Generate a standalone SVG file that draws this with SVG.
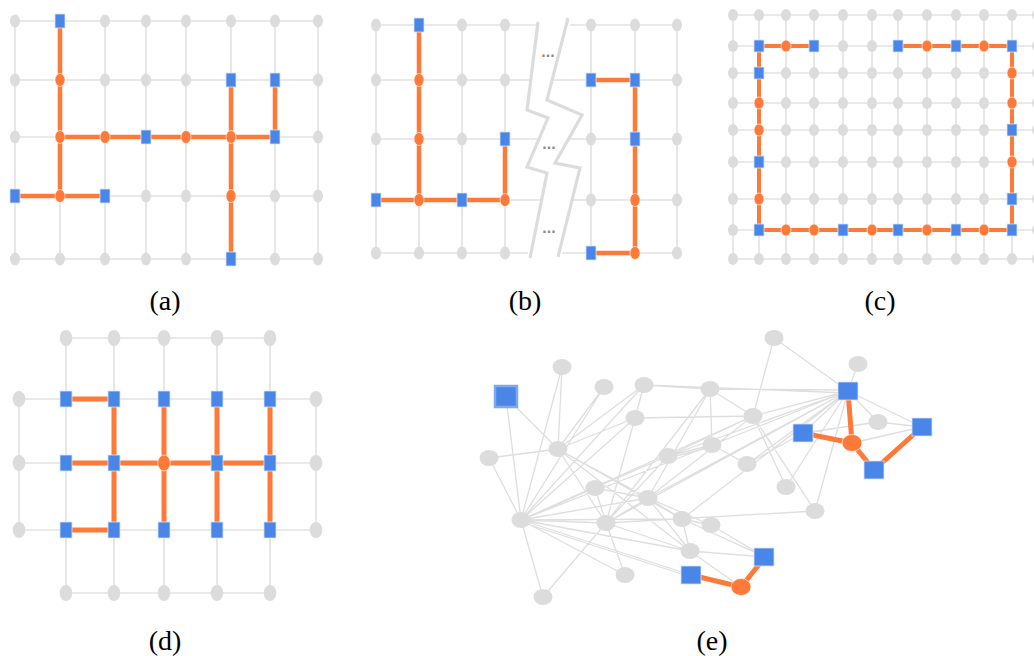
<svg xmlns="http://www.w3.org/2000/svg" width="1034" height="656" viewBox="0 0 1034 656">
<style>
.grid{fill:none;stroke:#e2e2e2;stroke-width:1.6}
.og{fill:none;stroke:#ff7a38;stroke-width:4.5;stroke-linecap:butt}
.gn{fill:#dcdcdc}
.on{fill:#ff7a38;stroke:#fff;stroke-width:0.6}
.bn{fill:#4a86e8;stroke:#d6e4fa;stroke-width:0.8}
.lbl{font-family:"Liberation Serif","Times New Roman",serif;font-size:28px;fill:#000;text-anchor:middle}
.dots{font-family:"Liberation Sans",Arial,sans-serif;font-size:16px;font-weight:bold;fill:#8c8c8c;text-anchor:middle}
.eg{fill:none;stroke:#dedede;stroke-width:1.3}
.zig{fill:none;stroke:#dcdcdc;stroke-width:3.2;stroke-linejoin:miter}
</style>
<defs>
<ellipse id="ga" class="gn" rx="5" ry="6.5"/>
<ellipse id="oa" class="on" rx="5" ry="6.5"/>
<rect id="ba" class="bn" x="-5" y="-7" width="10" height="14"/>
<ellipse id="gc" class="gn" rx="5" ry="6"/>
<ellipse id="oc" class="on" rx="5" ry="6"/>
<rect id="bc" class="bn" x="-5" y="-6" width="10" height="12"/>
<ellipse id="gd" class="gn" rx="6.3" ry="8"/>
<ellipse id="od" class="on" rx="6.3" ry="8"/>
<rect id="bd" class="bn" x="-6" y="-8" width="12" height="16"/>
<ellipse id="ge" class="gn" rx="9.5" ry="8"/>
<ellipse id="oe" class="on" rx="10" ry="8.5"/>
<rect id="be" class="bn" x="-10" y="-9" width="20" height="18"/>
</defs>

<g id="connectors">
<!-- panel a -->
<path class="grid" d="M15 21H318M15 80H318M15 137H318M15 196H318M15 259H318M15 21V259M60 21V259M105 21V259M146 21V259M186 21V259M231 21V259M275 21V259M318 21V259"/>
<path class="og" d="M60 21V196M15 196H105M60 137H275M231 80V259M275 80V137"/>
<!-- panel b -->
<path class="grid" d="M376 25H538M376 80H530M376 139H537M376 200H541M376 253H528M376 25V253M419 25V253M462 25V253M505 25V253M570 25H677M553 80H677M569 139H677M573 200H677M562 253H677M591 25V253M635 25V253M677 25V253"/>
<path class="zig" d="M538 22L527 110L548 118L527 167L547 173L530 258"/>
<path class="zig" d="M568 18L547 100L582 115L555 163L580 168L558 257"/>
<path class="og" d="M419 25V200M376 200H505M505 139V200M591 80H635M635 80V253M591 253H635"/>
<!-- panel c -->
<path class="grid" d="M733 15H1034M733 46H1034M733 73H1034M733 103H1034M733 130H1034M733 162H1034M733 199H1034M733 230H1034M733 259H1034M733 15V259M759 15V259M786 15V259M814 15V259M843 15V259M872 15V259M898 15V259M927 15V259M956 15V259M984 15V259M1012 15V259"/>
<path class="og" style="stroke-width:4" d="M759 46H814M898 46H1012M759 46V230M1012 46V230M759 230H1012"/>
<!-- panel d -->
<path class="grid" d="M66 338H270M66 593H270M19 399H316M19 463H316M19 530H316M19 399V530M316 399V530M66 338V593M114 338V593M164 338V593M217 338V593M270 338V593"/>
<path class="og" style="stroke-width:5" d="M66 399H114M66 463H270M66 530H114M114 399V530M164 399V530M217 399V530M270 399V530"/>
<!-- panel e -->
<path class="eg" d="M506 397L558 449M506 397L521 520M562 367L558 449M562 367L521 520M604 387L558 449M604 387L521 520M644 385L558 449M644 385L521 520M644 385L635 418M644 385L710 389M644 385L848 393M710 389L848 390M710 389L712 445M710 389L753 416M710 389L648 498M710 389L606 523M774 338L753 416M774 338L848 391M858 364L848 391M635 418L558 449M635 418L753 416M635 418L606 523M489 458L558 449M489 458L521 520M558 449L648 498M558 449L606 523M558 449L690 551M558 449L682 519M521 520L606 523M521 520L648 498M521 520L682 519M521 520L690 551M521 520L691 575M521 522L691 577M521 520L625 575M521 520L543 597M521 520L668 456M521 520L635 418M521 520L712 445M521 520L753 416M521 520L595 488M606 523L543 597M606 523L625 575M606 523L690 551M606 523L815 511M606 523L648 498M668 456L606 523M668 456L712 445M668 458L712 447M668 456L848 391M668 456L753 416M712 445L848 391M712 445L747 464M753 416L848 391M753 416L648 498M753 416L786 487M753 416L815 511M848 391L648 498M848 391L606 523M848 391L747 464M848 391L786 487M848 391L815 511M848 391L803 433M848 391L878 422M848 391L922 427M848 391L682 519M803 433L747 464M803 433L878 422M878 422L922 427M852 443L922 427M595 488L606 523M595 488L648 498M648 498L682 519M648 498L711 525M648 498L690 551M682 519L690 551M682 519L711 525M682 519L765 557M711 525L765 557M690 551L765 557M690 551L741 587"/>
<path class="og" style="stroke-width:5" d="M848 391L852 443M803 433L852 443M852 443L874 470L922 427M691 575L741 587L765 557"/>
</g>

<g id="nodes-a">
<use id="a11" href="#ga" x="15" y="21"/><use id="a12" href="#ba" x="60" y="21"/><use id="a13" href="#ga" x="105" y="21"/><use id="a14" href="#ga" x="146" y="21"/><use id="a15" href="#ga" x="186" y="21"/><use id="a16" href="#ga" x="231" y="21"/><use id="a17" href="#ga" x="275" y="21"/><use id="a18" href="#ga" x="318" y="21"/>
<use id="a21" href="#ga" x="15" y="80"/><use id="a22" href="#oa" x="60" y="80"/><use id="a23" href="#ga" x="105" y="80"/><use id="a24" href="#ga" x="146" y="80"/><use id="a25" href="#ga" x="186" y="80"/><use id="a26" href="#ba" x="231" y="80"/><use id="a27" href="#ba" x="275" y="80"/><use id="a28" href="#ga" x="318" y="80"/>
<use id="a31" href="#ga" x="15" y="137"/><use id="a32" href="#oa" x="60" y="137"/><use id="a33" href="#oa" x="105" y="137"/><use id="a34" href="#ba" x="146" y="137"/><use id="a35" href="#oa" x="186" y="137"/><use id="a36" href="#oa" x="231" y="137"/><use id="a37" href="#ba" x="275" y="137"/><use id="a38" href="#ga" x="318" y="137"/>
<use id="a41" href="#ba" x="15" y="196"/><use id="a42" href="#oa" x="60" y="196"/><use id="a43" href="#ba" x="105" y="196"/><use id="a44" href="#ga" x="146" y="196"/><use id="a45" href="#ga" x="186" y="196"/><use id="a46" href="#oa" x="231" y="196"/><use id="a47" href="#ga" x="275" y="196"/><use id="a48" href="#ga" x="318" y="196"/>
<use id="a51" href="#ga" x="15" y="259"/><use id="a52" href="#ga" x="60" y="259"/><use id="a53" href="#ga" x="105" y="259"/><use id="a54" href="#ga" x="146" y="259"/><use id="a55" href="#ga" x="186" y="259"/><use id="a56" href="#ba" x="231" y="259"/><use id="a57" href="#ga" x="275" y="259"/><use id="a58" href="#ga" x="318" y="259"/>
</g>

<g id="nodes-b">
<use id="b11" href="#ga" x="376" y="25"/><use id="b12" href="#ba" x="419" y="25"/><use id="b13" href="#ga" x="462" y="25"/><use id="b14" href="#ga" x="505" y="25"/>
<use id="b21" href="#ga" x="376" y="80"/><use id="b22" href="#oa" x="419" y="80"/><use id="b23" href="#ga" x="462" y="80"/><use id="b24" href="#ga" x="505" y="80"/>
<use id="b31" href="#ga" x="376" y="139"/><use id="b32" href="#oa" x="419" y="139"/><use id="b33" href="#ga" x="462" y="139"/><use id="b34" href="#ba" x="505" y="139"/>
<use id="b41" href="#ba" x="376" y="200"/><use id="b42" href="#oa" x="419" y="200"/><use id="b43" href="#ba" x="462" y="200"/><use id="b44" href="#oa" x="505" y="200"/>
<use id="b51" href="#ga" x="376" y="253"/><use id="b52" href="#ga" x="419" y="253"/><use id="b53" href="#ga" x="462" y="253"/><use id="b54" href="#ga" x="505" y="253"/>
<use id="b15" href="#ga" x="591" y="25"/><use id="b16" href="#ga" x="635" y="25"/><use id="b17" href="#ga" x="677" y="25"/>
<use id="b25" href="#ba" x="591" y="80"/><use id="b26" href="#ba" x="635" y="80"/><use id="b27" href="#ga" x="677" y="80"/>
<use id="b35" href="#ga" x="591" y="139"/><use id="b36" href="#ba" x="635" y="139"/><use id="b37" href="#ga" x="677" y="139"/>
<use id="b45" href="#ga" x="591" y="200"/><use id="b46" href="#oa" x="635" y="200"/><use id="b47" href="#ga" x="677" y="200"/>
<use id="b55" href="#ba" x="591" y="253"/><use id="b56" href="#oa" x="635" y="253"/><use id="b57" href="#ga" x="677" y="253"/>
<text class="dots" x="548" y="57">...</text>
<text class="dots" x="549" y="149">...</text>
<text class="dots" x="549" y="233">...</text>
</g>

<g id="nodes-c">
<use id="c11" href="#gc" x="733" y="15"/><use id="c12" href="#gc" x="759" y="15"/><use id="c13" href="#gc" x="786" y="15"/><use id="c14" href="#gc" x="814" y="15"/><use id="c15" href="#gc" x="843" y="15"/><use id="c16" href="#gc" x="872" y="15"/><use id="c17" href="#gc" x="898" y="15"/><use id="c18" href="#gc" x="927" y="15"/><use id="c19" href="#gc" x="956" y="15"/><use id="c1a" href="#gc" x="984" y="15"/><use id="c1b" href="#gc" x="1012" y="15"/><use id="c1c" href="#gc" x="1037" y="15"/>
<use id="c21" href="#gc" x="733" y="46"/><use id="c22" href="#bc" x="759" y="46"/><use id="c23" href="#oc" x="786" y="46"/><use id="c24" href="#bc" x="814" y="46"/><use id="c25" href="#gc" x="843" y="46"/><use id="c26" href="#gc" x="872" y="46"/><use id="c27" href="#bc" x="898" y="46"/><use id="c28" href="#oc" x="927" y="46"/><use id="c29" href="#bc" x="956" y="46"/><use id="c2a" href="#oc" x="984" y="46"/><use id="c2b" href="#bc" x="1012" y="46"/><use id="c2c" href="#gc" x="1037" y="46"/>
<use id="c31" href="#gc" x="733" y="73"/><use id="c32" href="#bc" x="759" y="73"/><use id="c33" href="#gc" x="786" y="73"/><use id="c34" href="#gc" x="814" y="73"/><use id="c35" href="#gc" x="843" y="73"/><use id="c36" href="#gc" x="872" y="73"/><use id="c37" href="#gc" x="898" y="73"/><use id="c38" href="#gc" x="927" y="73"/><use id="c39" href="#gc" x="956" y="73"/><use id="c3a" href="#gc" x="984" y="73"/><use id="c3b" href="#oc" x="1012" y="73"/><use id="c3c" href="#gc" x="1037" y="73"/>
<use id="c41" href="#gc" x="733" y="103"/><use id="c42" href="#oc" x="759" y="103"/><use id="c43" href="#gc" x="786" y="103"/><use id="c44" href="#gc" x="814" y="103"/><use id="c45" href="#gc" x="843" y="103"/><use id="c46" href="#gc" x="872" y="103"/><use id="c47" href="#gc" x="898" y="103"/><use id="c48" href="#gc" x="927" y="103"/><use id="c49" href="#gc" x="956" y="103"/><use id="c4a" href="#gc" x="984" y="103"/><use id="c4b" href="#oc" x="1012" y="103"/><use id="c4c" href="#gc" x="1037" y="103"/>
<use id="c51" href="#gc" x="733" y="130"/><use id="c52" href="#oc" x="759" y="130"/><use id="c53" href="#gc" x="786" y="130"/><use id="c54" href="#gc" x="814" y="130"/><use id="c55" href="#gc" x="843" y="130"/><use id="c56" href="#gc" x="872" y="130"/><use id="c57" href="#gc" x="898" y="130"/><use id="c58" href="#gc" x="927" y="130"/><use id="c59" href="#gc" x="956" y="130"/><use id="c5a" href="#gc" x="984" y="130"/><use id="c5b" href="#bc" x="1012" y="130"/><use id="c5c" href="#gc" x="1037" y="130"/>
<use id="c61" href="#gc" x="733" y="162"/><use id="c62" href="#bc" x="759" y="162"/><use id="c63" href="#gc" x="786" y="162"/><use id="c64" href="#gc" x="814" y="162"/><use id="c65" href="#gc" x="843" y="162"/><use id="c66" href="#gc" x="872" y="162"/><use id="c67" href="#gc" x="898" y="162"/><use id="c68" href="#gc" x="927" y="162"/><use id="c69" href="#gc" x="956" y="162"/><use id="c6a" href="#gc" x="984" y="162"/><use id="c6b" href="#oc" x="1012" y="162"/><use id="c6c" href="#gc" x="1037" y="162"/>
<use id="c71" href="#gc" x="733" y="199"/><use id="c72" href="#oc" x="759" y="199"/><use id="c73" href="#gc" x="786" y="199"/><use id="c74" href="#gc" x="814" y="199"/><use id="c75" href="#gc" x="843" y="199"/><use id="c76" href="#gc" x="872" y="199"/><use id="c77" href="#gc" x="898" y="199"/><use id="c78" href="#gc" x="927" y="199"/><use id="c79" href="#gc" x="956" y="199"/><use id="c7a" href="#gc" x="984" y="199"/><use id="c7b" href="#bc" x="1012" y="199"/><use id="c7c" href="#gc" x="1037" y="199"/>
<use id="c81" href="#gc" x="733" y="230"/><use id="c82" href="#bc" x="759" y="230"/><use id="c83" href="#oc" x="786" y="230"/><use id="c84" href="#oc" x="814" y="230"/><use id="c85" href="#bc" x="843" y="230"/><use id="c86" href="#oc" x="872" y="230"/><use id="c87" href="#bc" x="898" y="230"/><use id="c88" href="#oc" x="927" y="230"/><use id="c89" href="#bc" x="956" y="230"/><use id="c8a" href="#oc" x="984" y="230"/><use id="c8b" href="#bc" x="1012" y="230"/><use id="c8c" href="#gc" x="1037" y="230"/>
<use id="c91" href="#gc" x="733" y="259"/><use id="c92" href="#gc" x="759" y="259"/><use id="c93" href="#gc" x="786" y="259"/><use id="c94" href="#gc" x="814" y="259"/><use id="c95" href="#gc" x="843" y="259"/><use id="c96" href="#gc" x="872" y="259"/><use id="c97" href="#gc" x="898" y="259"/><use id="c98" href="#gc" x="927" y="259"/><use id="c99" href="#gc" x="956" y="259"/><use id="c9a" href="#gc" x="984" y="259"/><use id="c9b" href="#gc" x="1012" y="259"/><use id="c9c" href="#gc" x="1037" y="259"/>
</g>

<g id="nodes-d">
<use id="d12" href="#gd" x="66" y="338"/><use id="d13" href="#gd" x="114" y="338"/><use id="d14" href="#gd" x="164" y="338"/><use id="d15" href="#gd" x="217" y="338"/><use id="d16" href="#gd" x="270" y="338"/>
<use id="d21" href="#gd" x="19" y="399"/><use id="d22" href="#bd" x="66" y="399"/><use id="d23" href="#bd" x="114" y="399"/><use id="d24" href="#bd" x="164" y="399"/><use id="d25" href="#bd" x="217" y="399"/><use id="d26" href="#bd" x="270" y="399"/><use id="d27" href="#gd" x="316" y="399"/>
<use id="d31" href="#gd" x="19" y="463"/><use id="d32" href="#bd" x="66" y="463"/><use id="d33" href="#bd" x="114" y="463"/><use id="d34" href="#od" x="164" y="463"/><use id="d35" href="#bd" x="217" y="463"/><use id="d36" href="#bd" x="270" y="463"/><use id="d37" href="#gd" x="316" y="463"/>
<use id="d41" href="#gd" x="19" y="530"/><use id="d42" href="#bd" x="66" y="530"/><use id="d43" href="#bd" x="114" y="530"/><use id="d44" href="#bd" x="164" y="530"/><use id="d45" href="#bd" x="217" y="530"/><use id="d46" href="#bd" x="270" y="530"/><use id="d47" href="#gd" x="316" y="530"/>
<use id="d52" href="#gd" x="66" y="593"/><use id="d53" href="#gd" x="114" y="593"/><use id="d54" href="#gd" x="164" y="593"/><use id="d55" href="#gd" x="217" y="593"/><use id="d56" href="#gd" x="270" y="593"/>
</g>

<g id="nodes-e">
<g id="eS0"><rect x="495" y="386" width="22" height="21" fill="#4a86e8" stroke="#7ea9ee" stroke-width="2.5"/></g>
<g id="eA"><use href="#ge" x="562" y="367"/></g>
<g id="eB"><use href="#ge" x="604" y="387"/></g>
<g id="eC"><use href="#ge" x="644" y="385"/></g>
<g id="eD"><use href="#ge" x="710" y="389"/></g>
<g id="eE"><use href="#ge" x="774" y="338"/></g>
<g id="eF"><use href="#ge" x="858" y="364"/></g>
<g id="eH"><use href="#ge" x="635" y="418"/></g>
<g id="eI"><use href="#ge" x="753" y="416"/></g>
<g id="eJ"><use href="#ge" x="558" y="449"/></g>
<g id="eK"><use href="#ge" x="489" y="458"/></g>
<g id="eL"><use href="#ge" x="668" y="456"/></g>
<g id="eM"><use href="#ge" x="712" y="445"/></g>
<g id="eP"><use href="#ge" x="878" y="422"/></g>
<g id="eQ"><use href="#ge" x="747" y="464"/></g>
<g id="eR"><use href="#ge" x="786" y="487"/></g>
<g id="eT"><use href="#ge" x="815" y="511"/></g>
<g id="eU"><use href="#ge" x="595" y="488"/></g>
<g id="eV"><use href="#ge" x="648" y="498"/></g>
<g id="eW"><use href="#ge" x="521" y="520"/></g>
<g id="eX"><use href="#ge" x="606" y="523"/></g>
<g id="eY"><use href="#ge" x="682" y="519"/></g>
<g id="eZ"><use href="#ge" x="711" y="525"/></g>
<g id="eAA"><use href="#ge" x="690" y="551"/></g>
<g id="eBB"><use href="#ge" x="625" y="575"/></g>
<g id="eCC"><use href="#ge" x="543" y="597"/></g>
<g id="eG"><use href="#be" x="848" y="391"/></g>
<g id="eS2"><use href="#be" x="803" y="433"/></g>
<g id="eS3"><use href="#be" x="922" y="427"/></g>
<g id="eS4"><use href="#be" x="874" y="470"/></g>
<g id="eS5"><use href="#be" x="764" y="557"/></g>
<g id="eS6"><use href="#be" x="691" y="575"/></g>
<g id="eO"><use href="#oe" x="852" y="443"/></g>
<g id="eO2"><use href="#oe" x="741" y="587"/></g>
</g>

<g id="labels">
<text class="lbl" x="165" y="310">(a)</text>
<text class="lbl" x="525" y="310">(b)</text>
<text class="lbl" x="880" y="310">(c)</text>
<text class="lbl" x="165" y="650">(d)</text>
<text class="lbl" x="712" y="650">(e)</text>
</g>
</svg>
